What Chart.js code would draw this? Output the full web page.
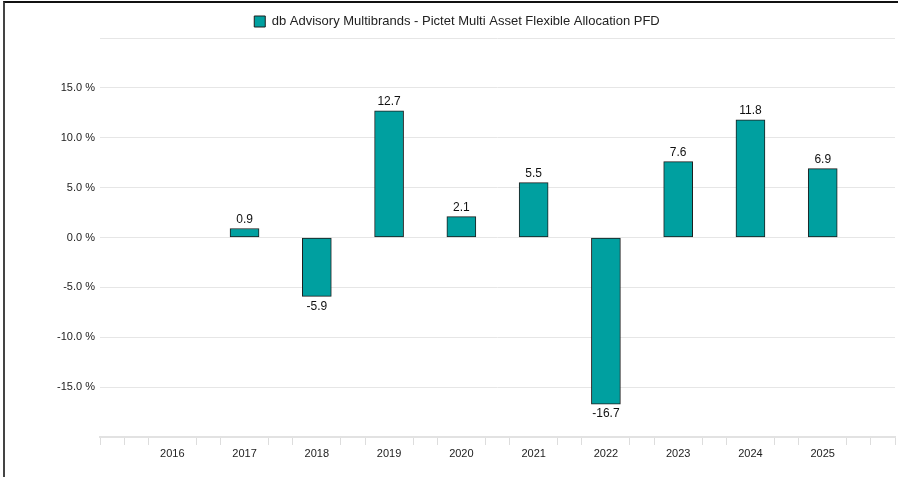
<!DOCTYPE html>
<html>
<head>
<meta charset="utf-8">
<script src="https://cdn.jsdelivr.net/npm/chart.js@4"></script>
<style>
  html, body { margin: 0; padding: 0; background: #fff; }
  #wrap { position: relative; width: 899px; height: 477px; overflow: hidden; }
  #c { position: absolute; left: 0; top: 0; }
  #frame { position: absolute; left: 3px; top: 1px; width: 893px; height: 480px;
           border-top: 2px solid #111; border-left: 2px solid #444; pointer-events: none; }
</style>
</head>
<body>
<div id="wrap">
  <canvas id="c" width="899" height="477"></canvas>
  <div id="frame"></div>
</div>
<script>
const seriesName = 'db Advisory Multibrands - Pictet Multi Asset Flexible Allocation PFD';
const categories = ['2016', '2017', '2018', '2019', '2020', '2021', '2022', '2023', '2024', '2025'];
const returns = [null, 0.9, -5.9, 12.7, 2.1, 5.5, -16.7, 7.6, 11.8, 6.9];
const yTicks = [-20, -15, -10, -5, 0, 5, 10, 15, 20];
const xMin = 2015, xMax = 2026, minorPerYear = 3;

const TEAL = '#00A0A0';
const FONT = 'Arial, "Liberation Sans", Helvetica, sans-serif';

const points = categories.map((c, i) => ({ x: Number(c), y: returns[i] }));
const labelYears = categories.map(Number);

function isLabelYear(v) {
  const r = Math.round(v);
  return Math.abs(v - r) < 1e-6 && labelYears.includes(r);
}

const dataLabels = {
  id: 'dataLabels',
  afterDatasetsDraw(chart) {
    const ctx = chart.ctx;
    const meta = chart.getDatasetMeta(0);
    const ds = chart.data.datasets[0];
    ctx.save();
    ctx.font = '12px ' + FONT;
    ctx.fillStyle = '#111';
    ctx.textAlign = 'center';
    meta.data.forEach((el, i) => {
      const v = ds.data[i].y;
      if (v === null || v === undefined) return;
      const txt = v.toFixed(1);
      if (v >= 0) {
        ctx.textBaseline = 'bottom';
        ctx.fillText(txt, el.x, el.y - 3);
      } else {
        ctx.textBaseline = 'top';
        ctx.fillText(txt, el.x, el.y + 4);
      }
    });
    ctx.restore();
  }
};

new Chart(document.getElementById('c'), {
  type: 'bar',
  data: {
    datasets: [{
      label: seriesName,
      data: points,
      backgroundColor: TEAL,
      borderColor: '#1e1e1e',
      borderWidth: 1,
      borderSkipped: false,
      barThickness: 29
    }]
  },
  options: {
    responsive: false,
    animation: false,
    devicePixelRatio: 1,
    layout: { padding: { left: 19, right: 4, top: 5, bottom: 0 } },
    plugins: {
      legend: {
        display: true,
        position: 'top',
        labels: {
          boxWidth: 11,
          boxHeight: 11,
          padding: 10,
          color: '#222',
          font: { size: 13, family: FONT }
        }
      },
      tooltip: { enabled: false }
    },
    scales: {
      x: {
        type: 'linear',
        min: xMin,
        max: xMax,
        offset: false,
        afterBuildTicks(scale) {
          const t = [];
          const n = (xMax - xMin) * minorPerYear;
          for (let k = 0; k <= n; k++) t.push({ value: xMin + k / minorPerYear });
          scale.ticks = t;
        },
        afterFit(scale) { scale.height = 40; },
        border: { display: true, color: '#e2e2e2', width: 2 },
        grid: {
          offset: false,
          drawOnChartArea: false,
          drawTicks: true,
          tickLength: 8,
          color(ctx) {
            const v = ctx.tick ? ctx.tick.value : 0;
            return isLabelYear(v) ? 'rgba(0,0,0,0)' : '#dddddd';
          }
        },
        ticks: {
          autoSkip: false,
          maxRotation: 0,
          padding: 2,
          color: '#222',
          font: { size: 11, family: FONT },
          callback(v) { return isLabelYear(v) ? String(Math.round(v)) : ''; }
        }
      },
      y: {
        min: yTicks[0],
        max: yTicks[yTicks.length - 1],
        afterBuildTicks(scale) { scale.ticks = yTicks.map(v => ({ value: v })); },
        afterFit(scale) { scale.width = 81; },
        border: { display: false },
        grid: { color: '#e6e6e6', lineWidth: 1, drawTicks: false },
        ticks: {
          padding: 5,
          color: '#222',
          font: { size: 11, family: FONT },
          callback(v) {
            if (v === yTicks[0] || v === yTicks[yTicks.length - 1]) return '';
            return v.toFixed(1) + ' %';
          }
        }
      }
    }
  },
  plugins: [dataLabels]
});
</script>
</body>
</html>
